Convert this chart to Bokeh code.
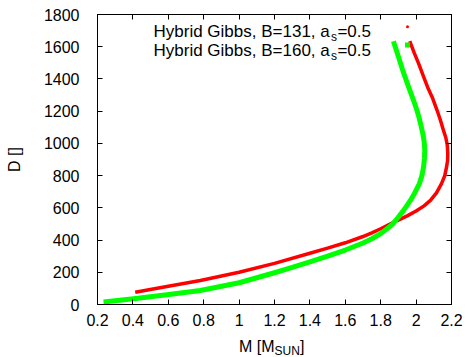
from bokeh.plotting import figure
from bokeh.layouts import column
from bokeh.models import Range1d, LinearAxis, FixedTicker, Label, Div
from bokeh.embed import file_html
from bokeh.resources import INLINE

# Two hybrid-star sequences: mass M [M_sun] against D
red_mass = [0.413, 0.592, 0.781, 1.000, 1.200, 1.400, 1.500, 1.600, 1.700, 1.750,
            1.800, 1.850, 1.893, 1.950, 2.000, 2.045, 2.081, 2.115, 2.143, 2.162,
            2.172, 2.178, 2.179, 2.176, 2.168, 2.152, 2.138, 2.119, 2.091, 2.065,
            2.040, 2.015, 1.990, 1.964]
red_d = [76, 112, 149, 200, 255, 318, 350, 383, 422, 445,
         470, 497, 521, 550, 580, 612, 646, 693, 749, 800,
         852, 895, 935, 990, 1035, 1090, 1142, 1204, 1287, 1349,
         1420, 1494, 1560, 1634]

green_mass = [0.234, 0.404, 0.592, 0.781, 1.000, 1.200, 1.300, 1.400, 1.500, 1.600,
              1.700, 1.750, 1.800, 1.845, 1.868, 1.898, 1.925, 1.945, 1.966, 1.990,
              2.018, 2.033, 2.042, 2.047, 2.049, 2.046, 2.038, 2.028, 2.016, 2.005,
              1.986, 1.958, 1.925, 1.898, 1.872]
green_d = [16, 35, 60, 87, 135, 197, 230, 265, 300, 338,
           382, 408, 440, 478, 501, 540, 578, 609, 643, 688,
           749, 800, 852, 905, 956, 1008, 1060, 1110, 1163, 1204,
           1266, 1349, 1452, 1545, 1634]

series_names = ["Hybrid Gibbs, B=131, a", "Hybrid Gibbs, B=160, a"]
series_sub = ["s", "s"]
series_tail = ["=0.5", "=0.5"]
series_colors = ["#ff0000", "#00ff00"]

x_ticks = [0.2, 0.4, 0.6, 0.8, 1.0, 1.2, 1.4, 1.6, 1.8, 2.0, 2.2]
x_tick_labels = ["0.2", "0.4", "0.6", "0.8", "1", "1.2", "1.4", "1.6", "1.8", "2", "2.2"]
y_ticks = [0, 200, 400, 600, 800, 1000, 1200, 1400, 1600, 1800]
y_tick_labels = ["0", "200", "400", "600", "800", "1000", "1200", "1400", "1600", "1800"]

W, H = 468, 339
LEFT, RIGHT, TOP, BOTTOM = 97, 17, 14, 35
X0, X1 = 0.2, 2.2
Y0, Y1 = 0, 1800
FONT = "Liberation Sans"

p = figure(width=W, height=H, x_range=Range1d(X0, X1), y_range=Range1d(Y0, Y1),
           x_axis_type=None, y_axis_type=None,
           output_backend="svg", toolbar_location=None,
           min_border_left=LEFT, min_border_right=RIGHT,
           min_border_top=TOP, min_border_bottom=BOTTOM, margin=0)
p.outline_line_color = "black"
p.outline_line_width = 1
p.background_fill_color = "white"
p.border_fill_color = "white"


def px_x(px):
    return X0 + (px - LEFT) / (W - LEFT - RIGHT) * (X1 - X0)


def px_y(py):
    return Y0 + (H - BOTTOM - py) / (H - TOP - BOTTOM) * (Y1 - Y0)


def make_axis(ticks, labels, show, standoff):
    ax = LinearAxis(ticker=FixedTicker(ticks=ticks))
    ax.axis_line_color = "black"
    ax.major_tick_line_color = "black"
    ax.major_tick_in = 5
    ax.major_tick_out = 0
    ax.minor_tick_line_color = None
    ax.major_label_text_font = FONT
    ax.major_label_standoff = standoff
    ax.major_label_overrides = {t: s for t, s in zip(ticks, labels)}
    if show:
        ax.major_label_text_font_size = "16px"
        ax.major_label_text_color = "black"
    else:
        # mirrored tick marks only
        ax.major_label_text_font_size = "1px"
        ax.major_label_text_color = None
    return ax


p.add_layout(make_axis(x_ticks, x_tick_labels, True, 9), "below")
yax = make_axis(y_ticks, y_tick_labels, True, 18)
yax.axis_label = "D []"
yax.axis_label_text_font = FONT
yax.axis_label_text_font_size = "16px"
yax.axis_label_text_font_style = "normal"
yax.axis_label_text_color = "black"
yax.axis_label_standoff = 18
p.add_layout(yax, "left")
p.add_layout(make_axis(x_ticks, x_tick_labels, False, 0), "above")
p.add_layout(make_axis(y_ticks, y_tick_labels, False, 0), "right")

# curves
p.line(red_mass, red_d, line_color=series_colors[0], line_width=3.5, line_join="round")
p.line(green_mass, green_d, line_color=series_colors[1], line_width=5, line_join="round")

# key, gnuplot style: text right-aligned with sample on the right
rows_y = [31, 50]
for i in range(2):
    base = rows_y[i]
    p.add_layout(Label(x=px_x(153), y=px_y(base), text=series_names[i],
                       text_font=FONT, text_font_size="17px", text_color="black",
                       text_baseline="alphabetic", text_align="left"))
    p.add_layout(Label(x=px_x(330.5), y=px_y(base + 5.5), text=series_sub[i],
                       text_font=FONT, text_font_size="12px", text_color="black",
                       text_baseline="alphabetic", text_align="left"))
    p.add_layout(Label(x=px_x(370.5), y=px_y(base), text=series_tail[i],
                       text_font=FONT, text_font_size="17px", text_color="black",
                       text_baseline="alphabetic", text_align="right"))
p.scatter([px_x(407)], [px_y(26.3)], marker="circle", size=3,
          fill_color=series_colors[0], line_color=None)
p.scatter([px_x(407)], [px_y(44.5)], marker="square", size=5,
          fill_color=series_colors[1], line_color=None)

# x-axis title with subscript, set as a line of HTML under the plot
x_title = Div(
    text=('<div style="font-family:\'Liberation Sans\',Arial,sans-serif;font-size:16px;'
          'line-height:16px;padding-left:239px;white-space:nowrap;color:black;">'
          'M [M<sub style="font-size:12px;line-height:0;vertical-align:-3px;">SUN</sub>]'
          '</div>'),
    width=W, height=18, margin=0)

layout = column(p, x_title, spacing=0, margin=0)
open("out.html", "w").write(file_html(layout, INLINE))
